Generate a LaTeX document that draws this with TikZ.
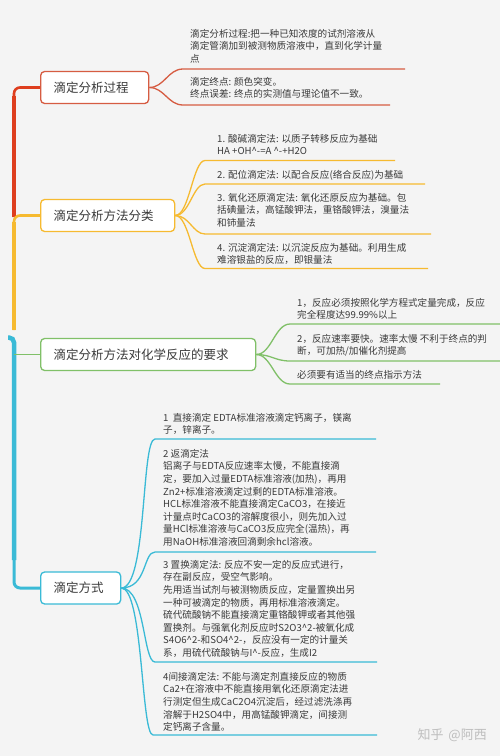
\documentclass[tikz,border=0pt]{standalone}
\usepackage{fontspec}
\newfontfamily\cjk{Noto Sans CJK SC}
\newcommand{\crt}{\textasciicircum{}}
\definecolor{bg}{RGB}{244,244,244}
\definecolor{txt}{RGB}{58,58,58}
\definecolor{redtrunk}{RGB}{222,62,30}
\definecolor{redc}{RGB}{214,92,66}
\definecolor{orangec}{RGB}{246,186,48}
\definecolor{greenc}{RGB}{128,192,104}
\definecolor{cyanc}{RGB}{58,186,214}
\definecolor{wm}{RGB}{190,190,190}
\begin{document}
\begin{tikzpicture}[x=1pt,y=-1pt,
  mainnode/.style={draw, fill=white, rounded corners=4pt, line width=1.3pt,
    minimum height=32pt, inner xsep=13pt, inner ysep=0pt, align=left, anchor=west,
    text=txt, font=\cjk\fontsize{12.5}{15}\selectfont},
  leaf/.style={anchor=north west, inner sep=0pt, align=left, text=txt,
    font=\cjk\fontsize{9.6}{12.6}\selectfont},
  leafline/.style={line width=1.3pt},
  trunk/.style={line width=4.5pt},
  stub/.style={line width=2.6pt, rounded corners=6pt}]
\useasboundingbox (0,0) rectangle (500,756);
\fill[bg] (0,0) rectangle (500,756);

% ---------- main nodes ----------
\node[mainnode, draw=redc, text width=82pt] (n1) at (40,87.5) {滴定分析过程};
\node[mainnode, draw=orangec, text width=108pt] (n2) at (40,215.5) {滴定分析方法分类};
\node[mainnode, draw=greenc, text width=189pt] (n3) at (40,354.5) {滴定分析方法对化学反应的要求};
\node[mainnode, draw=cyanc, text width=54pt] (n4) at (40,588) {滴定方式};

% ---------- trunk ----------
\coordinate (t1) at (14,217);
\coordinate (t1b) at (14,96);
\draw[stub, redtrunk] (t1) |- (n1.west);
\draw[trunk, redtrunk] (t1) -- (t1b);
\coordinate (t2) at (14,330);
\coordinate (t2b) at (14,222);
\draw[stub, orangec] (t2) |- (n2.west);
\draw[trunk, orangec] (t2) -- (t2b);
\coordinate (t3a) at (8,337.5);
\coordinate (t3) at (14,560);
\draw[trunk, cyanc, rounded corners=5pt] (t3a) -| (t3);
\draw[stub, cyanc, line width=3pt] (t3) |- (n4.west);
\coordinate (t4) at (14,354.5);
\draw[leafline, greenc] (t4) -- (n3.west);

% ---------- branch 1 ----------
\coordinate (a1s) at (183,69);  \coordinate (a1e) at (405,69);
\coordinate (a2s) at (183,105); \coordinate (a2e) at (390,105);
\begin{scope}[leafline, redc]
\draw (n1.east) to[out=0,in=180,out distance=15pt,in distance=15pt] (a1s) -- (a1e);
\draw (n1.east) to[out=0,in=180,out distance=15pt,in distance=15pt] (a2s) -- (a2e);
\end{scope}
\node[leaf] (a1) at (190,29) {滴定分析过程:把一种已知浓度的试剂溶液从\\滴定管滴加到被测物质溶液中，直到化学计量\\点};
\node[leaf] (a2) at (190,77) {滴定终点: 颜色突变。\\终点误差: 终点的实测值与理论值不一致。};

% ---------- branch 2 ----------
\coordinate (b1s) at (205,160.5); \coordinate (b1e) at (395,160.5);
\coordinate (b2s) at (205,184);   \coordinate (b2e) at (425,184);
\coordinate (b3s) at (205,234);   \coordinate (b3e) at (431,234);
\coordinate (b4s) at (205,268.5); \coordinate (b4e) at (428,268.5);
\begin{scope}[leafline, orangec]
\draw (n2.east) to[out=0,in=180,out distance=14pt,in distance=12pt] (b1s) -- (b1e);
\draw (n2.east) to[out=0,in=180,out distance=14pt,in distance=12pt] (b2s) -- (b2e);
\draw (n2.east) to[out=0,in=180,out distance=14pt,in distance=12pt] (b3s) -- (b3e);
\draw (n2.east) to[out=0,in=180,out distance=14pt,in distance=12pt] (b4s) -- (b4e);
\end{scope}
\node[leaf] (b1) at (217,134) {1. 酸碱滴定法: 以质子转移反应为基础\\HA +OH\crt-=A \crt-+H2O};
\node[leaf] (b2) at (217,170) {2. 配位滴定法: 以配合反应(络合反应)为基础};
\node[leaf] (b3) at (217,193) {3. 氧化还原滴定法: 氧化还原反应为基础。包\\括碘量法，高锰酸钾法，重铬酸钾法，溴量法\\和铈量法};
\node[leaf] (b4) at (217,243) {4. 沉淀滴定法: 以沉淀反应为基础。利用生成\\难溶银盐的反应，即银量法};

% ---------- branch 3 ----------
\coordinate (c1s) at (290,324); \coordinate (c1e) at (500,324);
\coordinate (c2s) at (290,361); \coordinate (c2e) at (500,361);
\coordinate (c3s) at (290,384); \coordinate (c3e) at (440,384);
\begin{scope}[leafline, greenc]
\draw (n3.east) to[out=0,in=180,out distance=15pt,in distance=15pt] (c1s) -- (c1e);
\draw (n3.east) to[out=0,in=180,out distance=15pt,in distance=15pt] (c2s) -- (c2e);
\draw (n3.east) to[out=0,in=180,out distance=15pt,in distance=15pt] (c3s) -- (c3e);
\end{scope}
\node[leaf] (c1) at (297,298) {1，反应必须按照化学方程式定量完成，反应\\完全程度达99.99\%以上};
\node[leaf] (c2) at (297,334) {2，反应速率要快。速率太慢 不利于终点的判\\断，可加热/加催化剂提高};
\node[leaf] (c3) at (297,370) {必须要有适当的终点指示方法};

% ---------- branch 4 ----------
\coordinate (d1s) at (155,439); \coordinate (d1e) at (376,439);
\coordinate (d2s) at (155,552); \coordinate (d2e) at (376,552);
\coordinate (d3s) at (155,662); \coordinate (d3e) at (377,662);
\coordinate (d4s) at (153,735); \coordinate (d4e) at (377,735);
\begin{scope}[leafline, cyanc]
\draw (n4.east) to[out=0,in=180,out distance=26pt,in distance=14pt] (d1s) -- (d1e);
\draw (n4.east) to[out=0,in=180,out distance=26pt,in distance=12pt] (d2s) -- (d2e);
\draw (n4.east) to[out=0,in=180,out distance=24pt,in distance=12pt] (d3s) -- (d3e);
\draw (n4.east) to[out=0,in=180,out distance=22pt,in distance=12pt] (d4s) -- (d4e);
\end{scope}
\node[leaf] (d1) at (163,413) {1\ \ 直接滴定 EDTA标准溶液滴定钙离子，镁离\\子，锌离子。};
\node[leaf] (d2) at (163,449) {2 返滴定法\\铝离子与EDTA反应速率太慢，不能直接滴\\定，要加入过量EDTA标准溶液(加热)，再用\\Zn2+标准溶液滴定过剩的EDTA标准溶液。\\HCL标准溶液不能直接滴定CaCO3，在接近\\计量点时CaCO3的溶解度很小，则先加入过\\量HCl标准溶液与CaCO3反应完全(温热)，再\\用NaOH标准溶液回滴剩余hcl溶液。};
\node[leaf] (d3) at (163,560) {3 置换滴定法: 反应不安一定的反应式进行，\\存在副反应，受空气影响。\\先用适当试剂与被测物质反应，定量置换出另\\一种可被滴定的物质，再用标准溶液滴定。\\硫代硫酸钠不能直接滴定重铬酸钾或者其他强\\置换剂。与强氧化剂反应时S2O3\crt2-被氧化成\\S4O6\crt2-和SO4\crt2-，反应没有一定的计量关\\系，用硫代硫酸钠与I\crt-反应，生成I2};
\node[leaf] (d4) at (163,672) {4间接滴定法: 不能与滴定剂直接反应的物质\\Ca2+在溶液中不能直接用氧化还原滴定法进\\行测定但生成CaC2O4沉淀后，经过滤洗涤再\\溶解于H2SO4中，用高锰酸钾滴定，间接测\\定钙离子含量。};

% ---------- watermark ----------
\node[anchor=east, inner sep=0pt, text=wm, font=\cjk\fontsize{13}{15}\selectfont] (wmk) at (487,735) {知乎\hspace{5pt}@阿西};
\end{tikzpicture}
\end{document}
